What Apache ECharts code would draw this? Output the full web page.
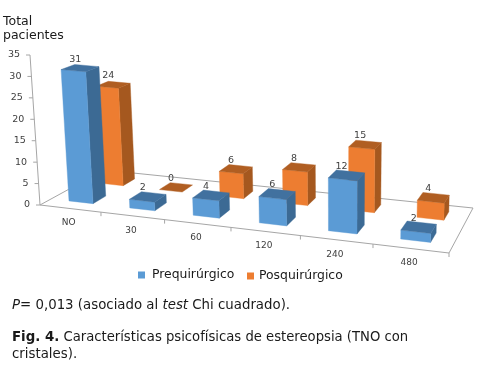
<!DOCTYPE html>
<html><head><meta charset="utf-8">
<style>html,body{margin:0;padding:0;background:#fff}#c{width:479px;height:374px}</style>
<script src="https://cdn.jsdelivr.net/npm/echarts@6/dist/echarts.min.js"></script>
</head><body><div id="c"></div>
<script>
const categories = ['NO','30','60','120','240','480'];
const prequirurgico = [31,2,4,6,12,2];
const posquirurgico = [24,0,6,8,15,4];
const yTicks = [0,5,10,15,20,25,30,35];
const seriesNames = ['Prequirúrgico','Posquirúrgico'];

const FONT = '"DejaVu Sans", Verdana, sans-serif';
const G = {left:40, top:55, width:409, height:150};
const Q = [[40,205],[449,253],[473,208],[104,170]];
const [x0,y0]=Q[0],[x1,y1]=Q[1],[x2,y2]=Q[2],[x3,y3]=Q[3];
const dx1=x1-x2,dx2=x3-x2,sx=x0-x1+x2-x3,dy1=y1-y2,dy2=y3-y2,sy=y0-y1+y2-y3;
const den=dx1*dy2-dx2*dy1;
const hg=(sx*dy2-dx2*sy)/den, hh=(dx1*sy-sx*dy1)/den;
const ha=x1-x0+hg*x1, hb=x3-x0+hh*x3, hd=y1-y0+hg*y1, he=y3-y0+hh*y3;
function floor(s,t){const w=hg*s+hh*t+1;return [(ha*s+hb*t+x0)/w,(hd*s+he*t+y0)/w];}
function proj(s,t,hPx){
  const p=floor(s,t);
  const z=hPx*(1+0.06*s)*(1-0.09*t);
  return [p[0]+(p[0]-340)/4500*z,p[1]-z];
}

function barRenderer(cols,u0,u1,v0,v1){
  return function(params,api){
    const c=api.coord([api.value(0),api.value(1)]);
    const band=api.size([1,0])[0];
    const left=c[0]-band/2-G.left;
    const s0=(left+u0*band)/G.width, s1=(left+u1*band)/G.width;
    const h=G.top+G.height-c[1];
    const P=(s,t,z)=>proj(s,t,z);
    const poly=(pts,fill)=>({type:'polygon',shape:{points:pts},style:{fill:fill,stroke:fill,lineWidth:0.4}});
    const children=[];
    if(h>0){
      children.push(poly([P(s1,v0,0),P(s1,v1,0),P(s1,v1,h),P(s1,v0,h)],cols.side));
      children.push(poly([P(s0,v0,0),P(s1,v0,0),P(s1,v0,h),P(s0,v0,h)],cols.front));
    }
    children.push(poly([P(s0,v0,h),P(s1,v0,h),P(s1,v1,h),P(s0,v1,h)],cols.top));
    const m=P((s0+s1)/2,(v0+v1)/2,h);
    children.push({type:'text',style:{text:String(api.value(1)),x:m[0]-5,y:m[1]-9,align:'center',verticalAlign:'middle',font:'9.5px '+FONT,fill:'#404040'}});
    return {type:'group',children};
  };
}
function frameRenderer(params,api){
  if(params.dataIndex!==0) return;
  const line=(a,b)=>({type:'line',shape:{x1:a[0],y1:a[1],x2:b[0],y2:b[1]},style:{stroke:'#a6a6a6',lineWidth:1}});
  const top=G.height;
  return {type:'group',children:[
    line(floor(0,0),floor(1,0)),line(floor(1,0),floor(1,1)),line(floor(1,1),floor(0,1)),line(floor(0,1),floor(0,0)),
    line(proj(0,0,0),proj(0,0,top))
  ]};
}
function yTickRenderer(params,api){
  const c=api.coord([0,api.value(0)]);
  const h=G.top+G.height-c[1];
  const p=proj(0,0,h);
  return {type:'group',children:[
    {type:'line',shape:{x1:p[0],y1:p[1],x2:p[0]-4,y2:p[1]},style:{stroke:'#a6a6a6',lineWidth:1}},
    {type:'text',style:{text:String(api.value(0)),x:p[0]-10,y:p[1],align:'right',verticalAlign:'middle',font:'9.5px '+FONT,fill:'#404040'}}
  ]};
}
function xTickRenderer(params,api){
  const i=api.value(0);
  const c=api.coord([i,0]);
  const band=api.size([1,0])[0];
  const s=(c[0]-G.left)/G.width, sEdge=(c[0]+band/2-G.left)/G.width;
  const p=floor(s,0), e=floor(sEdge,0);
  return {type:'group',children:[
    {type:'line',shape:{x1:e[0],y1:e[1],x2:e[0],y2:e[1]+4},style:{stroke:'#a6a6a6',lineWidth:1}},
    {type:'text',style:{text:categories[i],x:p[0]-1.5,y:p[1]+14.5,align:'center',verticalAlign:'middle',font:'9px '+FONT,fill:'#404040'}}
  ]};
}
const blue={front:'#5b9bd5',side:'#3c6a94',top:'#41719f'};
const orange={front:'#ed7d31',side:'#a5581f',top:'#b05e22'};
const legendText={fontFamily:FONT,fontSize:12.4,color:'#1a1a1a'};
const chart=echarts.init(document.getElementById('c'),null,{renderer:'canvas'});
chart.setOption({
  animation:false,
  backgroundColor:'#fff',
  grid:{left:G.left,top:G.top,width:G.width,height:G.height},
  xAxis:{type:'category',data:categories,show:false},
  yAxis:{type:'value',min:0,max:35,interval:5,show:false},
  tooltip:{show:false},
  legend:[
    {data:[seriesNames[0]], left:133, top:264, itemWidth:7, itemHeight:7, icon:'rect',
     textStyle:Object.assign({padding:[0,0,0,2]},legendText)},
    {data:[seriesNames[1]], left:242, top:265, itemWidth:7, itemHeight:7, icon:'rect',
     textStyle:Object.assign({padding:[0,0,0,0]},legendText)}
  ],
  graphic:[
    {type:'text',left:3,top:15,style:{text:'Total\npacientes',font:'12.5px '+FONT,fill:'#1a1a1a',lineHeight:14}},
    {type:'text',left:12,top:299,style:{text:'{i|P}{n|= 0,013 (asociado al }{i|test}{n| Chi cuadrado).}',
      rich:{i:{font:'italic 13.33px '+FONT,fill:'#1a1a1a'},n:{font:'13.33px '+FONT,fill:'#1a1a1a'}}}},
    {type:'text',left:12,top:331,style:{text:'{b|Fig. 4.}{n| Características psicofísicas de estereopsia (TNO con}',
      rich:{b:{font:'bold 13.33px '+FONT,fill:'#1a1a1a'},n:{font:'13.2px '+FONT,fill:'#1a1a1a'}}}},
    {type:'text',left:12,top:348,style:{text:'cristales).',font:'13.33px '+FONT,fill:'#1a1a1a'}}
  ],
  series:[
    {type:'custom',name:'frame',silent:true,coordinateSystem:'cartesian2d',renderItem:frameRenderer,data:[[0,0]]},
    {type:'custom',name:'yticks',silent:true,coordinateSystem:'cartesian2d',renderItem:yTickRenderer,data:yTicks.map(v=>[v]),encode:{y:0}},
    {type:'custom',name:'xticks',silent:true,coordinateSystem:'cartesian2d',renderItem:xTickRenderer,data:categories.map((c,i)=>[i]),encode:{x:0}},
    {type:'custom',name:seriesNames[1],itemStyle:{color:orange.front},coordinateSystem:'cartesian2d',
      renderItem:barRenderer(orange,0.32,0.70,0.65,0.85),data:posquirurgico.map((v,i)=>[i,v]),encode:{x:0,y:1}},
    {type:'custom',name:seriesNames[0],itemStyle:{color:blue.front},coordinateSystem:'cartesian2d',
      renderItem:barRenderer(blue,0.3,0.7,0.16,0.36),data:prequirurgico.map((v,i)=>[i,v]),encode:{x:0,y:1}}
  ]
});
</script></body></html>
